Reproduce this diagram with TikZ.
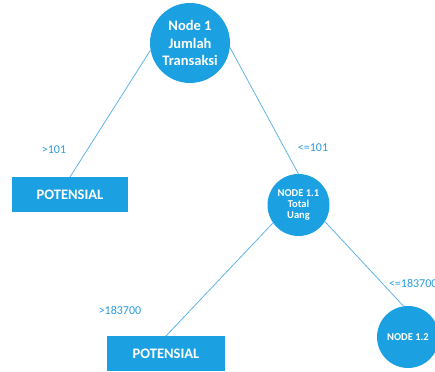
\documentclass[tikz,border=0pt]{standalone}
\usepackage{fontspec}
\setmainfont{Carlito}
\begin{document}
\begin{tikzpicture}[x=1pt,y=1pt,
  every node/.style={inner sep=0pt,outer sep=0pt},
  treenode/.style={circle,fill=nodeblue,text=white,font=\bfseries,align=center},
  leafbox/.style={rectangle,fill=nodeblue,text=white,font=\fontsize{14.5}{17}\selectfont\bfseries,minimum width=116pt,minimum height=35pt},
  edge/.style={draw=lineblue,line width=0.8pt},
  lbl/.style={text=lblblue,font=\fontsize{12}{14}\selectfont}]
\definecolor{nodeblue}{HTML}{1BA1E2}
\definecolor{lineblue}{HTML}{5FB5E8}
\definecolor{lblblue}{HTML}{2B9BDB}
\useasboundingbox (0,0) rectangle (435,371);
\clip (0,0) rectangle (435,371);
\node[treenode,minimum size=80pt,font=\fontsize{14.5}{17.3}\selectfont\bfseries] (n1) at (190,328) {Node 1\\Jumlah\\Transaksi};
\node[leafbox] (b1) at (70,176.5) {POTENSIAL};
\node[treenode,minimum size=62pt,font=\fontsize{10.5}{11}\selectfont\bfseries] (n11) at (298.5,166) {NODE 1.1\\Total\\Uang};
\node[leafbox,minimum width=118pt] (b2) at (166,17.5) {POTENSIAL};
\node[treenode,minimum size=62pt,font=\fontsize{10.5}{11}\selectfont\bfseries] (n12) at (408,34) {NODE 1.2};
\draw[edge] (n1.190) -- (b1.north);
\draw[edge] (n1.354) -- (n11.north);
\draw[edge] (n11.215) -- (b2.north);
\draw[edge] (n11.328) -- (n12.98);
\node[lbl] (l1) at (54,221) {>101};
\node[lbl] (l2) at (313,223) {<=101};
\node[lbl] (l3) at (120,61) {>183700};
\node[lbl,anchor=west] (l4) at (389,88) {<=183700};
\end{tikzpicture}
\end{document}
